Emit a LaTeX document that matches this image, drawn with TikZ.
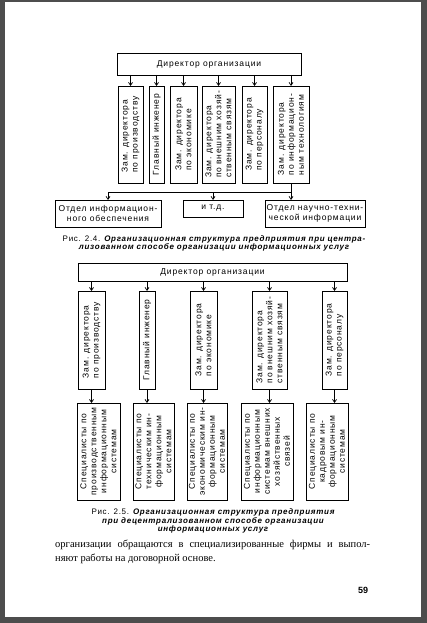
\documentclass[tikz,border=0pt]{standalone}
\usepackage{fontspec}
\setmainfont{Liberation Serif}
\newfontfamily\dgf[LetterSpace=10]{Liberation Sans}
\newfontfamily\capf[LetterSpace=9]{Liberation Sans}
\newfontfamily\numf{Liberation Sans}
\usetikzlibrary{arrows.meta}
\definecolor{pagegray}{HTML}{4D4D4D}
\begin{document}
\begin{tikzpicture}[x=1pt,y=-1pt,
  box/.style={draw, line width=0.7pt, inner sep=0pt, outer sep=0pt},
  vt/.style={rotate=90, font={\dgf\fontsize{8.5}{10}\selectfont}, align=left, inner sep=0pt},
  vtc/.style={vt, align=center},
  ht/.style={font={\dgf\fontsize{8.5}{10}\selectfont}, align=center, inner sep=0pt},
  capt/.style={font={\capf\fontsize{8}{8.7}\selectfont}, align=center, inner sep=0pt},
  arr/.style={-{Straight Barb[length=3pt,width=4pt]}, line width=0.7pt},
  ln/.style={line width=0.7pt}]
\fill[pagegray] (0,0) rectangle (427,623);
\fill[white] (5,2) rectangle (421,617);
\useasboundingbox (0,0) rectangle (427,623);

% ---------- Figure 2.4 ----------
\node[box, minimum width=184, minimum height=22] (D1) at (209,64) {};
\node[ht] (tD1) at (D1) {Директор организации};

\node[box, minimum width=25, minimum height=97] (b1) at (130.5,134.5) {};
\node[box, minimum width=15, minimum height=97] (b2) at (156.5,134.5) {};
\node[box, minimum width=27, minimum height=97] (b3) at (183.5,134.5) {};
\node[box, minimum width=33, minimum height=97] (b4) at (218.5,134.5) {};
\node[box, minimum width=25, minimum height=97] (b5) at (254.5,134.5) {};
\node[box, minimum width=36, minimum height=97] (b6) at (291,134.5) {};
\node[vt] (tb1) at (b1) {Зам. директора\\по производству};
\node[vt] (tb2) at (b2) {Главный инженер};
\node[vt] (tb3) at (b3) {Зам. директора\\по экономике};
\node[vt] (tb4) at (b4) {Зам. директора\\по внешним хозяй-\\ственным связям};
\node[vt] (tb5) at (b5) {Зам. директора\\по персоналу};
\node[vt] (tb6) at (b6) {Зам. директора\\по информацион-\\ным технологиям};
\foreach \b in {b1,b2,b3,b4,b5,b6}
  \draw[arr] (\b.north |- D1.south) -- (\b.north);

\node[box, minimum width=106, minimum height=27] (A) at (108,213.5) {};
\node[ht] (tA) at (A) {Отдел информацион-\\ного обеспечения};
\node[box, minimum width=60, minimum height=17] (E) at (213,208.5) {};
\node[ht] (tE) at (E) {и т.д.};
\node[box, minimum width=100, minimum height=27] (C) at (315,213.5) {};
\node[ht] (tC) at (C) {Отдел научно-техни-\\ческой информации};
\coordinate (bus) at (0,192);
\draw[arr] (b6.south) -- (b6.south |- C.north);
\draw[ln] (b6.south |- bus) -- (A.north |- bus);
\draw[arr] (A.north |- bus) -- (A.north);
\draw[arr] (E.north |- bus) -- (E.north);

\node[capt] (cap1) at (214,243.5) {Рис. 2.4. {\bfseries\itshape Организационная структура предприятия при центра-}\\{\bfseries\itshape лизованном способе организации информационных услуг}};

% ---------- Figure 2.5 ----------
\node[box, minimum width=269, minimum height=18] (D2) at (212.5,272) {};
\node[ht] (tD2) at (D2) {Директор организации};

\node[box, minimum width=27, minimum height=98] (r1) at (91.5,340) {};
\node[box, minimum width=16, minimum height=98] (r2) at (147,340) {};
\node[box, minimum width=27, minimum height=98] (r3) at (203.5,340) {};
\node[box, minimum width=35, minimum height=98] (r4) at (269.5,340) {};
\node[box, minimum width=25, minimum height=98] (r5) at (334.5,340) {};
\node[vt] (tr1) at (r1) {Зам. директора\\по производству};
\node[vt] (tr2) at (r2) {Главный инженер};
\node[vt] (tr3) at (r3) {Зам. директора\\по экономике};
\node[vt] (tr4) at (r4) {Зам. директора\\по внешним хозяй-\\ственным связям};
\node[vt] (tr5) at (r5) {Зам. директора\\по персоналу};
\foreach \r in {r1,r2,r3,r4,r5}
  \draw[arr] (\r.north |- D2.south) -- (\r.north);

\node[box, minimum width=43, minimum height=97] (s1) at (98.5,451.5) {};
\node[box, minimum width=41, minimum height=97] (s2) at (153.5,451.5) {};
\node[box, minimum width=40, minimum height=97] (s3) at (207,451.5) {};
\node[box, minimum width=52, minimum height=97] (s4) at (267,451.5) {};
\node[box, minimum width=42, minimum height=97] (s5) at (327,451.5) {};
\node[vtc] (ts1) at (s1) {Специалисты по\\производственным\\информационным\\системам};
\node[vtc] (ts2) at (s2) {Специалисты по\\техническим ин-\\формационным\\системам};
\node[vtc] (ts3) at (s3) {Специалисты по\\экономическим ин-\\формационным\\системам};
\node[vtc] (ts4) at (s4) {Специалисты по\\информационным\\системам внешних\\хозяйственных\\связей};
\node[vtc] (ts5) at (s5) {Специалисты по\\кадровым ин-\\формационным\\системам};
\draw[arr] (r1.south) -- (r1.south |- s1.north);
\draw[arr] (r2.south) -- (r2.south |- s2.north);
\draw[arr] (r3.south) -- (r3.south |- s3.north);
\draw[arr] (r4.south) -- (r4.south |- s4.north);
\draw[arr] (r5.south) -- (r5.south |- s5.north);

\node[capt] (cap2) at (213,521) {Рис. 2.5. {\bfseries\itshape Организационная структура предприятия}\\{\bfseries\itshape при децентрализованном способе организации}\\{\bfseries\itshape информационных услуг}};

\node[anchor=north west, inner sep=0pt, text width=315pt, align=justify, font={\fontsize{10.5}{14}\selectfont}] (body) at (55,540) {организации обращаются в специализированные фирмы и выпол-\linebreak няют работы на договорной основе.};

\node[font={\numf\bfseries\fontsize{9}{10}\selectfont}, inner sep=0pt] (pnum) at (363,590) {59};
\end{tikzpicture}
\end{document}
